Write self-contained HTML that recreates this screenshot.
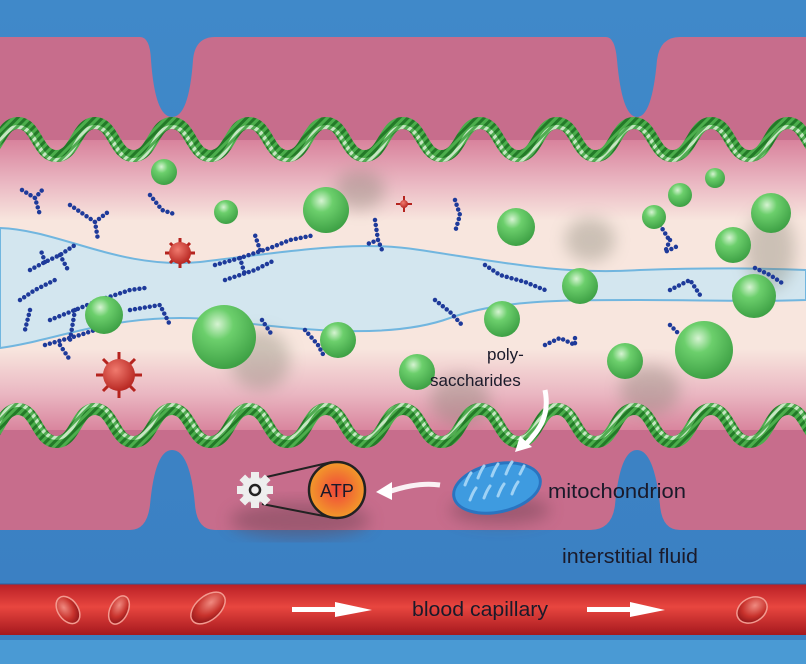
<!DOCTYPE html>
<html><head><meta charset="utf-8"><style>
html,body{margin:0;padding:0;background:#3f88c8;}
svg{display:block}
text{font-family:"Liberation Sans",sans-serif;fill:#1a1a2a}
</style></head><body>
<svg width="806" height="664" viewBox="0 0 806 664" xmlns="http://www.w3.org/2000/svg">
<defs>
<linearGradient id="lumen" x1="0" y1="0" x2="0" y2="1">
<stop offset="0" stop-color="#d2708f"/><stop offset="0.18" stop-color="#eab7c2"/><stop offset="0.3" stop-color="#f8e6de"/><stop offset="0.7" stop-color="#f8e6de"/><stop offset="0.84" stop-color="#eab7c2"/><stop offset="1" stop-color="#d2708f"/>
</linearGradient>
<linearGradient id="bg" x1="0" y1="0" x2="0" y2="1"><stop offset="0" stop-color="#4089c9"/><stop offset="1" stop-color="#3a7fc2"/></linearGradient>
<linearGradient id="blood" x1="0" y1="0" x2="0" y2="1"><stop offset="0" stop-color="#b81f26"/><stop offset="0.45" stop-color="#e8463f"/><stop offset="1" stop-color="#a5181e"/></linearGradient>
<radialGradient id="sph" cx="0.4" cy="0.3" r="0.7"><stop offset="0" stop-color="#d6f3d2"/><stop offset="0.35" stop-color="#6ccf6c"/><stop offset="1" stop-color="#3ea145"/></radialGradient>
<radialGradient id="vir" cx="0.4" cy="0.35" r="0.7"><stop offset="0" stop-color="#f07a6e"/><stop offset="1" stop-color="#b5231e"/></radialGradient>
<radialGradient id="rbc" cx="0.4" cy="0.35" r="0.7"><stop offset="0" stop-color="#f08a80"/><stop offset="0.6" stop-color="#c8322c"/><stop offset="1" stop-color="#8a1418"/></radialGradient>
<radialGradient id="atp" cx="0.5" cy="0.5" r="0.5"><stop offset="0" stop-color="#f0453a"/><stop offset="1" stop-color="#f29a2a"/></radialGradient>
<pattern id="stripe" width="6" height="6" patternUnits="userSpaceOnUse" patternTransform="rotate(45)"><rect width="6" height="6" fill="#4cae4c"/><rect width="3" height="6" fill="#237a28"/></pattern>
<pattern id="stripeL" width="6" height="6" patternUnits="userSpaceOnUse" patternTransform="rotate(45)"><rect width="6" height="6" fill="#e4f4e0"/><rect width="3" height="6" fill="#5cb85c"/></pattern>
<filter id="blur"><feGaussianBlur stdDeviation="8"/></filter>
</defs>
<rect width="806" height="664" fill="url(#bg)"/>
<rect y="640" width="806" height="24" fill="#4a9ad4"/>
<rect x="0" y="125" width="806" height="320" fill="url(#lumen)"/>
<path d="M0 37 H140 Q150 37 151 60 Q155 117 172 117 Q189 117 193 60 Q195 37 215 37 H606 Q615 37 617 60 Q622 117 637 117 Q652 117 657 60 Q660 37 680 37 H806 V140 H0 Z" fill="#c76d8c"/>
<g transform="translate(0,6)">
<path d="M-59 117 C-40 117 -40 150 -20.5 150 C-1 150 -1 117 18 117 C37 117 37 150 56.5 150 C76 150 76 117 95 117 C114 117 114 150 133.5 150 C153 150 153 117 172 117 C191 117 191 150 210.5 150 C230 150 230 117 249 117 C268 117 268 150 287.5 150 C307 150 307 117 326 117 C345 117 345 150 364.5 150 C384 150 384 117 403 117 C422 117 422 150 441.5 150 C461 150 461 117 480 117 C499 117 499 150 518.5 150 C538 150 538 117 557 117 C576 117 576 150 595.5 150 C615 150 615 117 634 117 C653 117 653 150 672.5 150 C692 150 692 117 711 117 C730 117 730 150 749.5 150 C769 150 769 117 788 117 C807 117 807 150 826.5 150" fill="none" stroke="url(#stripe)" stroke-width="12"/>
<path d="M-59 121 C-40 121 -40 154 -20.5 154 C-1 154 -1 121 18 121 C37 121 37 154 56.5 154 C76 154 76 121 95 121 C114 121 114 154 133.5 154 C153 154 153 121 172 121 C191 121 191 154 210.5 154 C230 154 230 121 249 121 C268 121 268 154 287.5 154 C307 154 307 121 326 121 C345 121 345 154 364.5 154 C384 154 384 121 403 121 C422 121 422 154 441.5 154 C461 154 461 121 480 121 C499 121 499 154 518.5 154 C538 154 538 121 557 121 C576 121 576 154 595.5 154 C615 154 615 121 634 121 C653 121 653 154 672.5 154 C692 154 692 121 711 121 C730 121 730 154 749.5 154 C769 154 769 121 788 121 C807 121 807 154 826.5 154" fill="none" stroke="url(#stripeL)" stroke-width="4" opacity="0.8"/>
</g>
<path d="M0 228 C60 230 120 270 200 262 C300 250 360 240 420 250 C500 262 560 275 640 270 C700 268 760 268 806 270 L806 300 C760 302 700 300 640 300 C560 300 500 300 450 318 C390 340 300 330 220 320 C120 310 60 340 0 348 Z" fill="#cde6f2" stroke="#5aaee0" stroke-width="2" opacity="0.85"/>
<g filter="url(#blur)" fill="#7a7a6a" opacity="0.35">
<ellipse cx="360" cy="190" rx="25" ry="20"/><ellipse cx="590" cy="240" rx="25" ry="22"/><ellipse cx="770" cy="250" rx="25" ry="40"/><ellipse cx="260" cy="360" rx="30" ry="30"/><ellipse cx="460" cy="400" rx="30" ry="25"/><ellipse cx="650" cy="390" rx="30" ry="25"/>
</g>
<path d="M0 430 H806 V530 H680 Q662 530 660 505 Q654 450 637 450 Q620 450 615 505 Q612 530 590 530 H215 Q197 530 195 505 Q190 450 172 450 Q155 450 150 505 Q147 530 130 530 H0 Z" fill="#c76d8c"/>
<g filter="url(#blur)" fill="#6a4050" opacity="0.45">
<ellipse cx="300" cy="520" rx="70" ry="18"/><ellipse cx="500" cy="510" rx="50" ry="14"/>
</g>
<g transform="translate(0,2)">
<path d="M-20 440 C-1 440 -1 407 18 407 C37 407 37 440 56.5 440 C76 440 76 407 95 407 C114 407 114 440 133.5 440 C153 440 153 407 172 407 C191 407 191 440 210.5 440 C230 440 230 407 249 407 C268 407 268 440 287.5 440 C307 440 307 407 326 407 C345 407 345 440 364.5 440 C384 440 384 407 403 407 C422 407 422 440 441.5 440 C461 440 461 407 480 407 C499 407 499 440 518.5 440 C538 440 538 407 557 407 C576 407 576 440 595.5 440 C615 440 615 407 634 407 C653 407 653 440 672.5 440 C692 440 692 407 711 407 C730 407 730 440 749.5 440 C769 440 769 407 788 407 C807 407 807 440 826 440" fill="none" stroke="url(#stripe)" stroke-width="12"/>
<path d="M-20 436 C-1 436 -1 403 18 403 C37 403 37 436 56.5 436 C76 436 76 403 95 403 C114 403 114 436 133.5 436 C153 436 153 403 172 403 C191 403 191 436 210.5 436 C230 436 230 403 249 403 C268 403 268 436 287.5 436 C307 436 307 403 326 403 C345 403 345 436 364.5 436 C384 436 384 403 403 403 C422 403 422 436 441.5 436 C461 436 461 403 480 403 C499 403 499 436 518.5 436 C538 436 538 403 557 403 C576 403 576 436 595.5 436 C615 436 615 403 634 403 C653 403 653 436 672.5 436 C692 436 692 403 711 403 C730 403 730 436 749.5 436 C769 436 769 403 788 403 C807 403 807 436 826 436" fill="none" stroke="url(#stripeL)" stroke-width="4" opacity="0.8"/>
</g>
<g fill="none" stroke="#1e3a9a" stroke-width="4.5" stroke-linecap="round" stroke-dasharray="0 5">
<path d="M22 190 L35 198 L40 215 M35 198 L44 188"/>
<path d="M70 205 L95 222 L98 240 M95 222 L108 212"/>
<path d="M150 195 L162 210 L174 214"/>
<path d="M30 270 L45 262 L60 255 L75 245 M45 262 L40 248 M60 255 L68 270"/>
<path d="M20 300 L35 290 L55 280 M30 310 L25 330"/>
<path d="M50 320 L75 310 L100 300 L130 290 L145 288 M75 310 L70 340 M100 300 L110 330"/>
<path d="M45 345 L80 335 L110 325 M60 345 L70 360"/>
<path d="M130 310 L160 305 L170 325"/>
<path d="M215 265 L240 258 L270 248 L290 240 L315 235 M240 258 L245 275 M260 250 L255 235"/>
<path d="M225 280 L255 270 L275 260"/>
<path d="M375 220 L378 240 L365 245 M378 240 L382 250"/>
<path d="M455 200 L460 215 L455 232"/>
<path d="M485 265 L500 275 L525 282 L545 290"/>
<path d="M435 300 L450 312 L462 325"/>
<path d="M545 345 L560 338 L575 345 L575 335"/>
<path d="M670 240 L665 252 L680 245 M660 225 L668 238"/>
<path d="M670 290 L690 280 L700 295"/>
<path d="M755 268 L770 275 L785 285"/>
<path d="M670 325 L680 335"/>
<path d="M305 330 L318 345 L325 358"/>
<path d="M262 320 L272 335"/>
</g>
<g fill="url(#sph)">
<circle cx="164" cy="172" r="13"/><circle cx="226" cy="212" r="12"/><circle cx="326" cy="210" r="23"/><circle cx="516" cy="227" r="19"/><circle cx="680" cy="195" r="12"/><circle cx="715" cy="178" r="10"/><circle cx="654" cy="217" r="12"/><circle cx="771" cy="213" r="20"/><circle cx="733" cy="245" r="18"/><circle cx="754" cy="296" r="22"/><circle cx="580" cy="286" r="18"/><circle cx="502" cy="319" r="18"/><circle cx="104" cy="315" r="19"/><circle cx="224" cy="337" r="32"/><circle cx="338" cy="340" r="18"/><circle cx="417" cy="372" r="18"/><circle cx="625" cy="361" r="18"/><circle cx="704" cy="350" r="29"/>
</g>
<g stroke="#b5231e" stroke-width="3" fill="none">
<path d="M180 238V268M165 253H195M170 243L190 263M190 243L170 263"/>
<path d="M119 352V398M96 375H142M103 359L135 391M135 359L103 391"/>
<path d="M404 196V212M396 204H412" stroke-width="2"/>
</g>
<g fill="url(#vir)"><circle cx="180" cy="253" r="11"/><circle cx="119" cy="375" r="16"/><circle cx="404" cy="204" r="4"/></g>
<path d="M545 390 C550 415 540 430 525 445" fill="none" stroke="#fff" stroke-width="5"/>
<path d="M515 452 L532 447 L520 436 Z" fill="#fff"/>
<text x="487" y="360" font-size="17">poly-</text>
<text x="430" y="386" font-size="17">saccharides</text>
<ellipse cx="497" cy="488" rx="44" ry="24" transform="rotate(-12 497 488)" fill="#3e9be0" stroke="#2a74c0" stroke-width="3"/>
<g stroke="#9fd2f5" stroke-width="3" fill="none" stroke-linecap="round">
<path d="M465 485 q3 -8 6 -12M478 478 q3 -8 6 -12M492 476 q3 -8 6 -12M506 474 q3 -8 6 -12M520 474 q3 -6 4 -8M470 500 q3 -8 6 -12M484 498 q3 -8 6 -12M498 496 q3 -8 6 -12M512 494 q3 -8 6 -12"/>
</g>
<text x="548" y="498" font-size="20" textLength="138" lengthAdjust="spacingAndGlyphs">mitochondrion</text>
<path d="M440 485 C420 482 400 488 388 492" fill="none" stroke="#fff" stroke-width="5" opacity="0.9"/>
<path d="M376 492 L392 482 L392 500 Z" fill="#fff"/>
<path d="M262 478 L332 462 M262 504 L334 518" stroke="#222" stroke-width="2"/>
<circle cx="337" cy="490" r="28" fill="url(#atp)" stroke="#222" stroke-width="2.5"/>
<text x="337" y="497" font-size="18" text-anchor="middle">ATP</text>
<g transform="translate(255,490)">
<circle r="13" fill="#eee" stroke="#bbb"/>
<g fill="#eee"><rect x="-4" y="-18" width="8" height="8"/><rect x="-4" y="10" width="8" height="8"/><rect x="-18" y="-4" width="8" height="8"/><rect x="10" y="-4" width="8" height="8"/><rect x="-4" y="-18" width="8" height="8" transform="rotate(45)"/><rect x="-4" y="10" width="8" height="8" transform="rotate(45)"/><rect x="-18" y="-4" width="8" height="8" transform="rotate(45)"/><rect x="10" y="-4" width="8" height="8" transform="rotate(45)"/></g>
<circle r="5" fill="none" stroke="#222" stroke-width="2.5"/>
</g>
<text x="562" y="563" font-size="20" textLength="136" lengthAdjust="spacingAndGlyphs">interstitial fluid</text>
<rect x="0" y="584" width="806" height="51" fill="url(#blood)"/>
<line x1="0" y1="584" x2="806" y2="584" stroke="#2a5fa0" stroke-width="1"/>
<g fill="url(#rbc)" stroke="#f39a90" stroke-width="1.5">
<ellipse cx="68" cy="610" rx="10" ry="15" transform="rotate(-35 68 610)"/>
<ellipse cx="119" cy="610" rx="9" ry="15" transform="rotate(25 119 610)"/>
<ellipse cx="208" cy="608" rx="12" ry="20" transform="rotate(50 208 608)"/>
<ellipse cx="752" cy="610" rx="12" ry="16" transform="rotate(60 752 610)"/>
</g>
<g fill="#fff"><rect x="292" y="607" width="45" height="5"/><path d="M335 602 L372 610 L335 617 Z"/><rect x="587" y="607" width="45" height="5"/><path d="M630 602 L665 610 L630 617 Z"/></g>
<text x="412" y="616" font-size="20" textLength="136" lengthAdjust="spacingAndGlyphs">blood capillary</text>
</svg>
</body></html>
